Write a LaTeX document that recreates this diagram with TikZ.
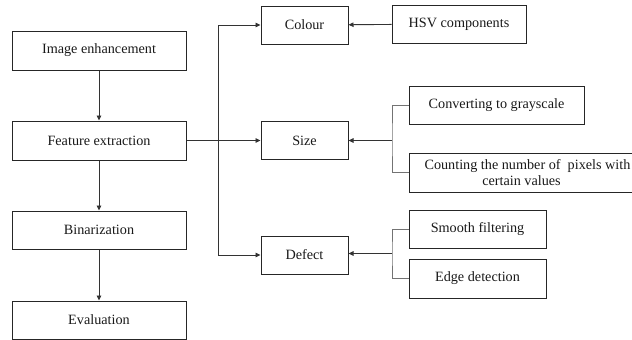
\documentclass[tikz,border=0pt]{standalone}
\usepackage{fontspec}
\setmainfont{Liberation Serif}
\usetikzlibrary{arrows.meta}
\begin{document}
\begin{tikzpicture}[x=1pt,y=-1pt,
  box/.style={draw=black!85,line width=1pt,rectangle,inner sep=0pt,align=center,
    font=\fontsize{14.2}{15.5}\selectfont,text=black!90},
  arr/.style={draw=black!80,line width=0.9pt,-{Triangle[length=5pt,width=4.5pt]}},
  link/.style={draw=black!55,line width=0.9pt}]
\useasboundingbox (0,0) rectangle (632,340);
\node[box,minimum width=174pt,minimum height=39pt] (enh) at (99,50.5) {Image enhancement};
\node[box,minimum width=174pt,minimum height=39pt] (feat) at (99,140.5) {Feature extraction};
\node[box,minimum width=174pt,minimum height=38pt] (bin) at (99,230) {Binarization};
\node[box,minimum width=174pt,minimum height=38pt] (eval) at (99,320) {Evaluation};
\node[box,minimum width=87pt,minimum height=38pt] (colour) at (304.5,25) {Colour};
\node[box,minimum width=87pt,minimum height=38pt] (size) at (304.5,140.5) {Size};
\node[box,minimum width=87pt,minimum height=38pt] (defect) at (304.5,255) {Defect};
\node[box,minimum width=134pt,minimum height=38pt] (hsv) at (459,24) {HSV components};
\node[box,minimum width=175pt,minimum height=38pt] (conv) at (496.5,105) {Converting to grayscale};
\node[box,minimum width=225pt,minimum height=39pt] (count) at (521.5,172.5)
  {\hspace*{12pt}Counting the number of\ \ pixels with\\certain values};
\node[box,minimum width=137pt,minimum height=38pt] (smooth) at (477.5,229) {Smooth filtering};
\node[box,minimum width=137pt,minimum height=39pt] (edge) at (477.5,278.5) {Edge detection};
\draw[arr] (enh) -- (feat);
\draw[arr] (feat) -- (bin);
\draw[arr] (bin) -- (eval);
\draw[arr] (feat) -- (size);
\coordinate (j) at (218,140.5);
\draw[arr] (j) |- (colour.west);
\draw[arr] (j) |- (defect.west);
\draw[arr] (hsv) -- (colour);
\coordinate (b1) at (392,140.5);
\draw[link] (conv.west) -| (b1) |- (count.west);
\draw[arr] (b1) -- (size.east);
\coordinate (b2) at (392,253.5);
\draw[link] (smooth.west) -| (b2) |- (edge.west);
\draw[arr] (b2) -- (defect.east |- b2);
\end{tikzpicture}
\end{document}
